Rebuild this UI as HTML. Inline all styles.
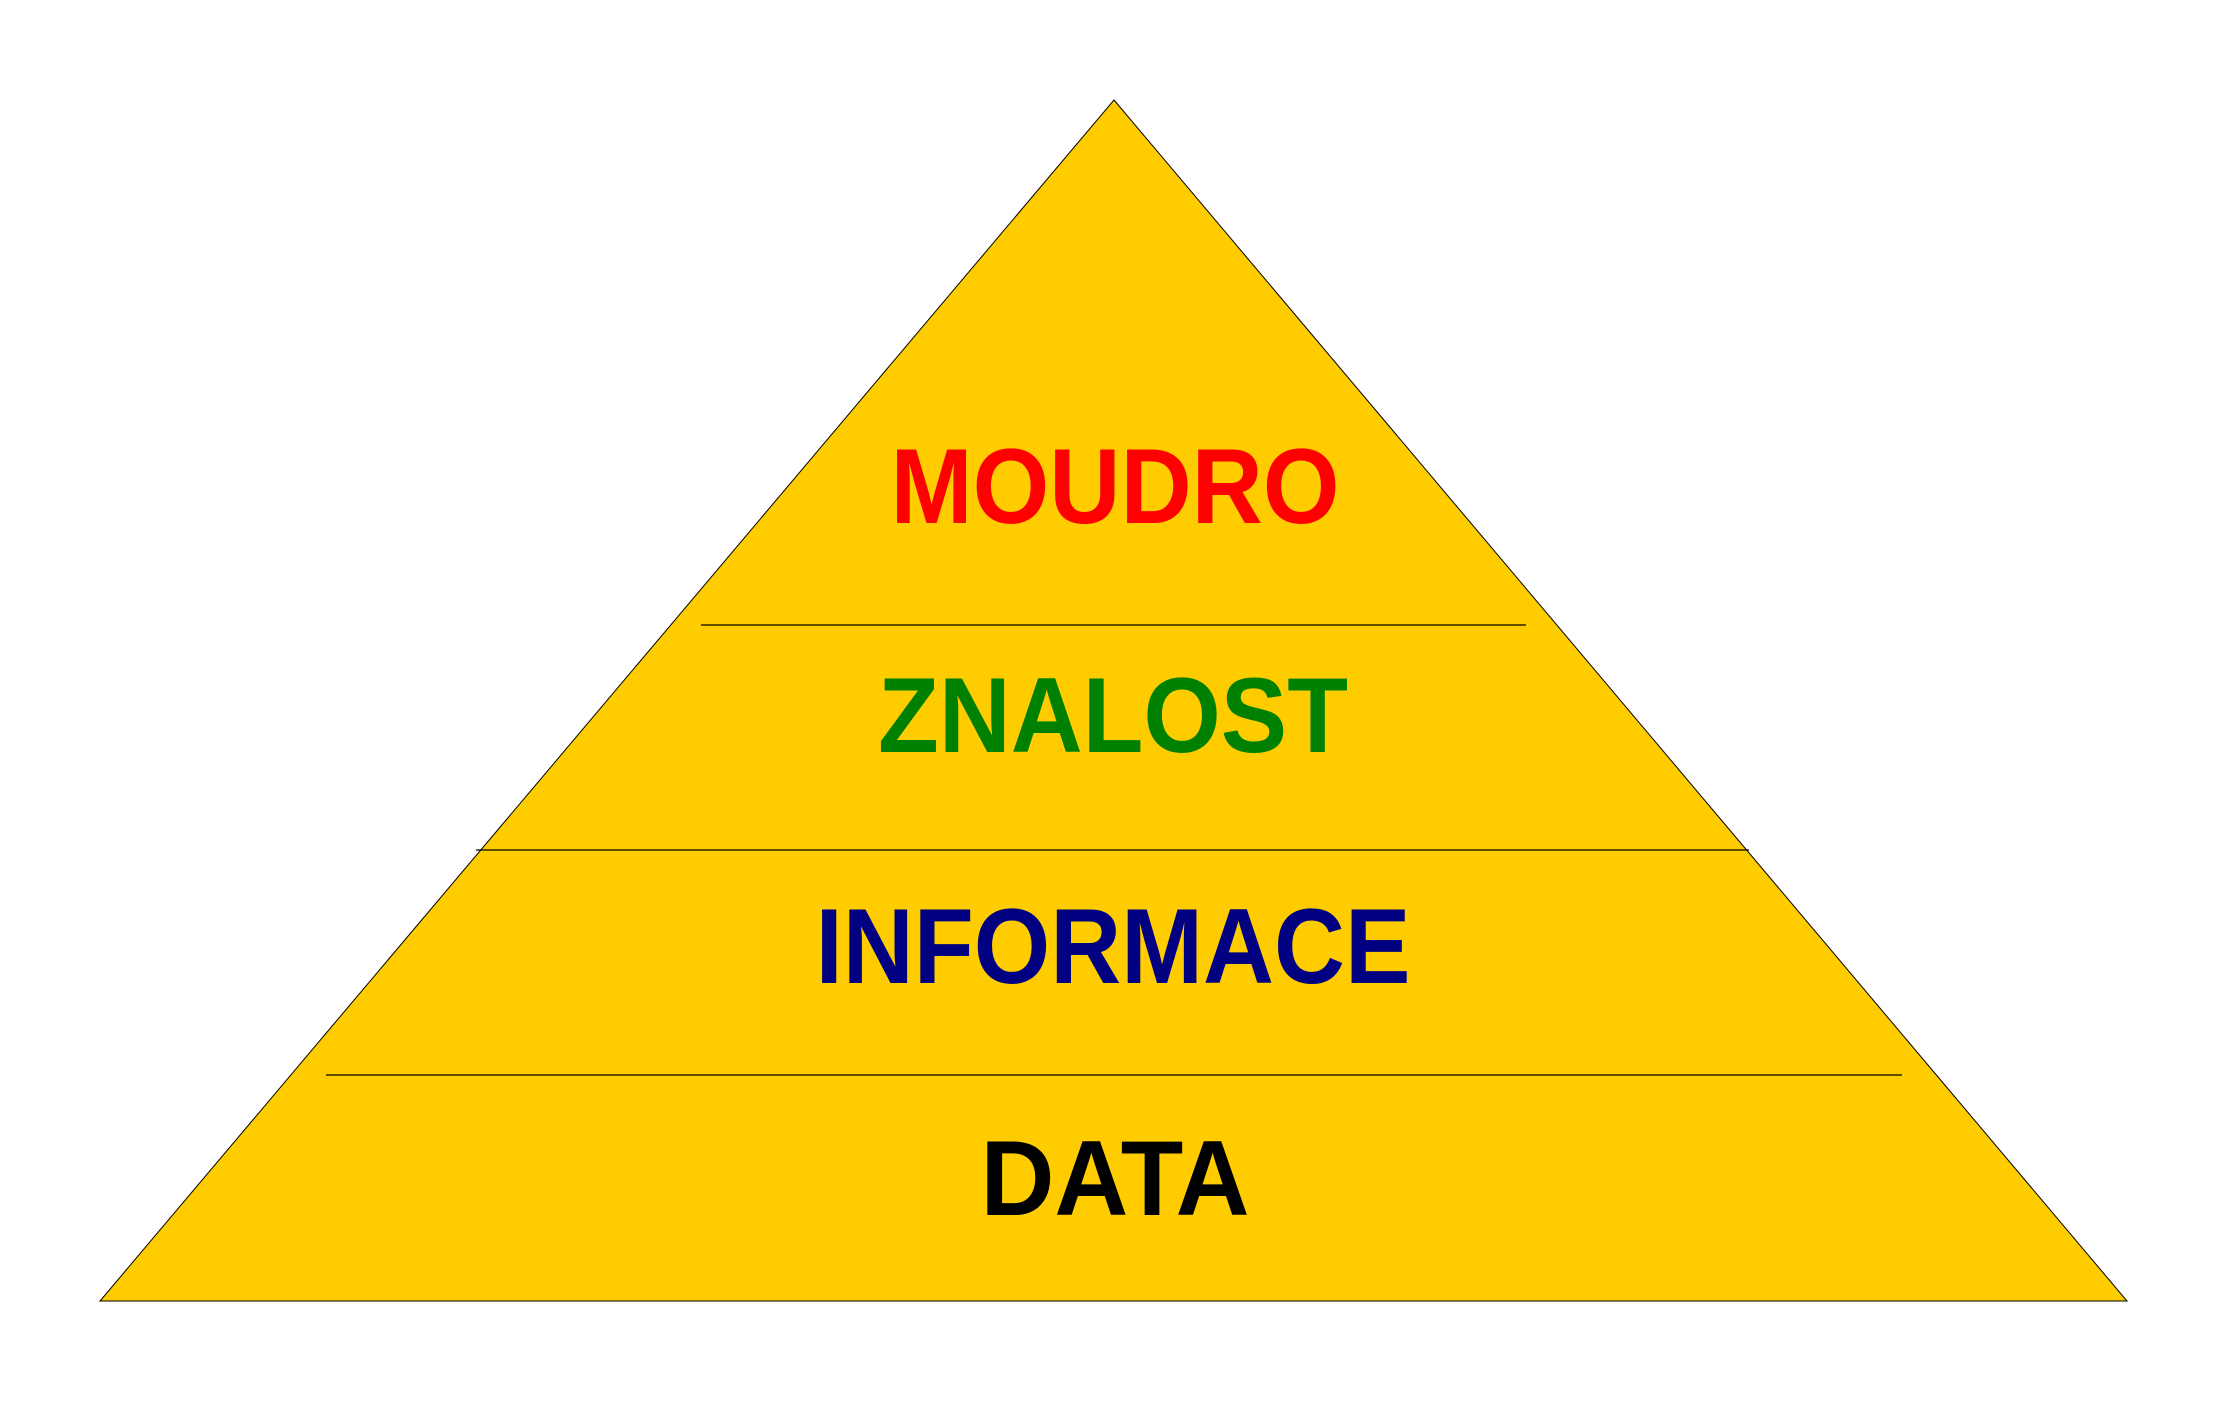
<!DOCTYPE html>
<html><head><meta charset="utf-8"><style>html,body{margin:0;padding:0;background:#fff;}svg{display:block}</style></head>
<body>
<svg width="2232" height="1403" viewBox="0 0 2232 1403" xmlns="http://www.w3.org/2000/svg">
<polygon points="1114,100 2127,1301 100,1301" fill="#FFCC00" stroke="#000" stroke-width="1"/>
<line x1="701" y1="625" x2="1526" y2="625" stroke="#000" stroke-width="1.3"/>
<line x1="476" y1="850" x2="1749" y2="850" stroke="#000" stroke-width="1.3"/>
<line x1="326" y1="1075" x2="1902" y2="1075" stroke="#000" stroke-width="1.3"/>
<g font-family="Liberation Sans, Arial, sans-serif" font-weight="bold" font-size="101" text-anchor="middle" lengthAdjust="spacingAndGlyphs">
<text transform="translate(1115,523) scale(1,1.06)" x="0" y="0" fill="#FF0000" textLength="449" lengthAdjust="spacingAndGlyphs">MOUDRO</text>
<text transform="translate(1113,752) scale(1,1.06)" x="0" y="0" fill="#008000" textLength="470" lengthAdjust="spacingAndGlyphs">ZNALOST</text>
<text transform="translate(1113,983) scale(1,1.06)" x="0" y="0" fill="#000080" textLength="595" lengthAdjust="spacingAndGlyphs">INFORMACE</text>
<text transform="translate(1115,1215) scale(1,1.06)" x="0" y="0" fill="#000000" textLength="269" lengthAdjust="spacingAndGlyphs">DATA</text>
</g>
</svg>
</body></html>
